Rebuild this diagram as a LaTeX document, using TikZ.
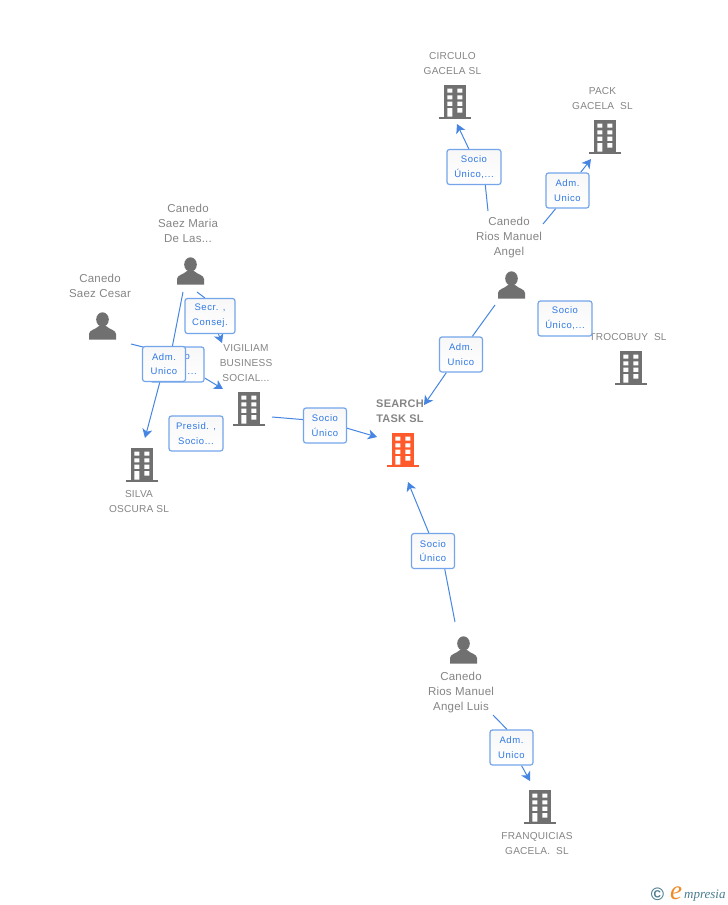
\documentclass[tikz,border=0pt]{standalone}
\usepackage{fontspec}
\setmainfont[LetterSpace=2]{Liberation Sans}
\newfontfamily\boxfont[LetterSpace=6]{Liberation Sans}
\newfontfamily\logofont{Liberation Serif}
\newfontfamily\copyfont{Liberation Sans}
\usetikzlibrary{arrows.meta,backgrounds}
\definecolor{icongray}{HTML}{707070}
\definecolor{iconred}{HTML}{FF5A2B}
\definecolor{labgray}{HTML}{858585}
\definecolor{edgeblue}{HTML}{4686E2}
\definecolor{boxline}{HTML}{74A5EA}
\definecolor{boxtext}{HTML}{2F78E4}
\definecolor{logoblue}{HTML}{4A7C90}
\definecolor{logoorange}{HTML}{F08A24}
\tikzset{
  x=1pt,y=-1pt,
  rolebox/.style={draw=boxline,line width=1.2pt,rounded corners=2.5pt,top color=black!3,bottom color=white,
    minimum height=35pt,inner sep=0pt,align=center,text=boxtext,font=\boxfont\fontsize{9.5}{14.7}\selectfont},
  narrowbox/.style={rolebox,minimum width=43pt},
  widebox/.style={rolebox,minimum width=54pt},
  edge/.style={draw=edgeblue,line width=1pt},
  arrowedge/.style={edge,-{Stealth[length=9pt,width=10pt,inset=2.5pt]}},
  lab/.style={align=center,text=labgray,inner sep=0pt,font=\fontsize{10.1}{15}\selectfont},
  perlab/.style={align=center,text=labgray,inner sep=0pt,font=\fontsize{11.5}{15}\selectfont},
  mainlab/.style={align=center,text=labgray,inner sep=0pt,font=\bfseries\fontsize{11}{15}\selectfont},
  iconbox/.style={inner sep=0pt,minimum width=32pt,minimum height=34pt},
  personbox/.style={inner sep=0pt,minimum width=27pt,minimum height=27pt},
}
\newcommand{\bldg}[4]{%
  \node[iconbox] (#1) at (#2,#3) {};
  \begin{scope}[shift={(#2,#3)}]
    \fill[#4] (-11,-17) rectangle (11,15);
    \fill[#4] (-16,15) rectangle (16,17);
    \fill[white] (-7.7,-13.3) rectangle (-2.7,-9.3) (2.3,-13.3) rectangle (7.3,-9.3)
      (-7.7,-6.7) rectangle (-2.7,-2.7) (2.3,-6.7) rectangle (7.3,-2.7)
      (-7.7,-0.5) rectangle (-2.7,3.8) (2.3,-0.5) rectangle (7.3,3.8)
      (-7.7,6) rectangle (-2.7,14.5) (2.3,6) rectangle (7.3,10.5);
  \end{scope}}
\newcommand{\persn}[3]{%
  \node[personbox] (#1) at (#2,#3) {};
  \begin{scope}[shift={(#2,#3)}]
    \fill[icongray] (0,-6.5) ellipse (6.3 and 7.2);
    \fill[icongray] (-13.5,13.5) -- (-13.5,8) .. controls (-13.5,4) and (-7,3.5) .. (-3.5,0)
      -- (3.5,0) .. controls (7,3.5) and (13.5,4) .. (13.5,8) -- (13.5,13.5) -- cycle;
  \end{scope}}
\begin{document}
\begin{tikzpicture}
\useasboundingbox (0,0) rectangle (728,905);
\begin{scope}[on background layer]
  \fill[white] (0,0) rectangle (728,905);
\end{scope}
% icons
\bldg{circulo}{455}{102}{icongray}
\bldg{pack}{605}{137}{icongray}
\bldg{trocobuy}{631}{368}{icongray}
\bldg{vigiliam}{249}{409}{icongray}
\bldg{silva}{142}{465}{icongray}
\bldg{search}{403}{450}{iconred}
\bldg{franquicias}{540}{807}{icongray}
\persn{maria}{190.5}{271}
\persn{cesar}{102.5}{326}
\persn{angel}{511.5}{285}
\persn{luis}{463.5}{650}
% labels
\node[lab] (lcirculo) at (452.5,63.5) {CIRCULO\\GACELA SL};
\node[lab] (lpack) at (602.5,98.5) {PACK\\GACELA\ \ SL};
\node[lab] (ltrocobuy) at (628,337) {TROCOBUY\ \ SL};
\node[lab] (lvigiliam) at (246,363) {VIGILIAM\\BUSINESS\\SOCIAL...};
\node[lab] (lsilva) at (139,501.5) {SILVA\\OSCURA SL};
\node[lab] (lfranq) at (537,843.5) {FRANQUICIAS\\GACELA.\ \ SL};
\node[mainlab] (lsearch) at (400,411.5) {SEARCH\\TASK SL};
\node[perlab] (lmaria) at (188,223) {Canedo\\Saez Maria\\De Las...};
\node[perlab] (lcesar) at (100,285.5) {Canedo\\Saez Cesar};
\node[perlab] (langel) at (509,237.5) {Canedo\\Rios Manuel\\Angel};
\node[perlab] (lluis) at (461,692.5) {Canedo\\Rios Manuel\\Angel Luis};
% role boxes
\node[narrowbox] (bVS) at (325,425.5) {Socio\\Único};
\node[narrowbox] (bAS) at (461,354.5) {Adm.\\Unico};
\node[narrowbox] (bLS) at (433,551) {Socio\\Único};
\node[narrowbox] (bLF) at (511.5,747.5) {Adm.\\Unico};
\node[widebox] (bAC) at (474,167) {Socio\\Único,...};
\node[narrowbox] (bAP) at (567.5,190.5) {Adm.\\Unico};
\node[widebox] (bAT) at (565,318.5) {Socio\\Único,...};
\node[widebox,minimum width=50pt] (bMV) at (210,316) {Secr. ,\\Consej.};
\node[widebox] (bCV) at (177,364.5) {Socio\\Único,...};
\node[narrowbox] (bMS) at (164,364) {Adm.\\Unico};
\node[widebox] (bPV) at (196,433.5) {Presid. ,\\Socio...};
% free ends of the connectors
\coordinate (vOut) at (272,417);
\coordinate (sW) at (377,437);
\coordinate (aOutS) at (495,305);
\coordinate (sN) at (424,405);
\coordinate (lOutS) at (455,622);
\coordinate (sS) at (408,482);
\coordinate (lOutF) at (493,715);
\coordinate (fN) at (530,781);
\coordinate (aOutC) at (488,211);
\coordinate (cS) at (457,124);
\coordinate (aOutP) at (543,224);
\coordinate (pS) at (591,159);
\coordinate (mOutS) at (183,292);
\coordinate (siN) at (145,438);
\coordinate (mOutV) at (197,292);
\coordinate (vN) at (222,343);
\coordinate (cOutV) at (131,344);
\coordinate (vW) at (223,389);
\begin{scope}[on background layer]
  \draw[edge] (vOut) -- (bVS.165);
  \draw[arrowedge] (bVS.-7) -- (sW);
  \draw[edge] (aOutS) -- (bAS.58);
  \draw[arrowedge] (bAS.-129) -- (sN);
  \draw[edge] (lOutS) -- (bLS.-57);
  \draw[arrowedge] (bLS.103) -- (sS);
  \draw[edge] (lOutF) -- (bLF.104);
  \draw[arrowedge] (bLF.-61.5) -- (fN);
  \draw[edge] (aOutC) -- (bAC.-58);
  \draw[arrowedge] (bAC.106) -- (cS);
  \draw[edge] (aOutP) -- (bAP.-123);
  \draw[arrowedge] (bAP.54.5) -- (pS);
  \draw[edge] (mOutS) -- (bMS.65);
  \draw[arrowedge] (bMS.-103) -- (siN);
  \draw[edge] (mOutV) -- (bMV.106);
  \draw[arrowedge] (bMV.-65) -- (vN);
  \draw[edge] (cOutV) -- (bCV.150);
  \draw[arrowedge] (bCV.-26.6) -- (vW);
\end{scope}
% logo
\node[inner sep=0pt,text=logoblue,font=\copyfont\bfseries\fontsize{18}{18}\selectfont] (logoc) at (657.5,894) {©};
\node[inner sep=0pt,anchor=base west,text=logoorange,font=\logofont\itshape\fontsize{27}{27}\selectfont] (logoe) at (670,899) {e};
\node[inner sep=0pt,anchor=base west,text=logoblue,font=\logofont\itshape\fontsize{13}{14}\selectfont] (logot) at (684,898) {mpresia};
\end{tikzpicture}
\end{document}
